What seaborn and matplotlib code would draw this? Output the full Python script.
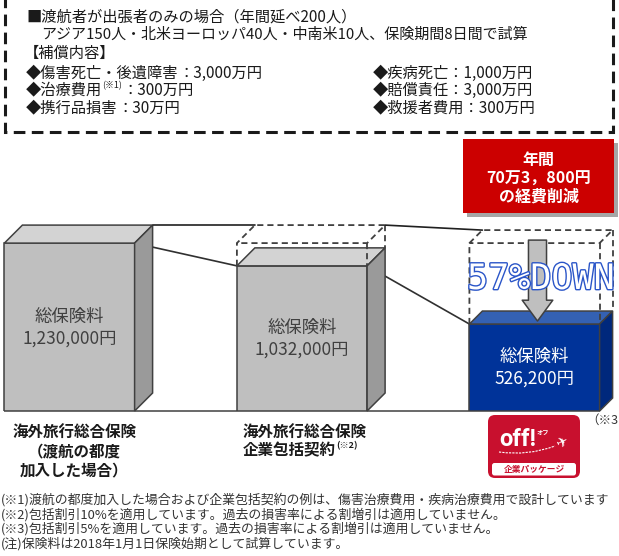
import matplotlib
matplotlib.use("Agg")
import numpy as np
import pandas as pd
import matplotlib.pyplot as plt
import seaborn as sns
from matplotlib.patches import Polygon, Rectangle, FancyBboxPatch, PathPatch
from matplotlib.path import Path
import matplotlib.patheffects as pe

# ------------------------------------------------------------------ data
plans = ["渡航の都度加入", "企業包括契約", "off!企業パッケージ"]
premiums = [1230000, 1032000, 526200]
premium_labels = ["1,230,000円", "1,032,000円", "526,200円"]
premium_title = "総保険料"
saving_lines = ["年間", "70万3，800円", "の経費削減"]
reduction_label = "57%DOWN"
category1_lines = ["海外旅行総合保険", "（渡航の都度", "加入した場合）"]
category2_lines = ["海外旅行総合保険", "企業包括契約"]
category2_note = "(※2)"
header_lines = ["■渡航者が出張者のみの場合（年間延べ200人）",
                "アジア150人・北米ヨーロッパ40人・中南米10人、保険期間8日間で試算",
                "【補償内容】"]
coverage_left = [["◆傷害死亡・後遺障害", "", "：3,000万円"],
                 ["◆治療費用", "(※1)", "：300万円"],
                 ["◆携行品損害", "", "：30万円"]]
coverage_right = ["◆疾病死亡：1,000万円", "◆賠償責任：3,000万円", "◆救援者費用：300万円"]
footnotes = ["(※1)渡航の都度加入した場合および企業包括契約の例は、傷害治療費用・疾病治療費用で設計しています",
             "(※2)包括割引10%を適用しています。過去の損害率による割増引は適用していません。",
             "(※3)包括割引5%を適用しています。過去の損害率による割増引は適用していません。",
             "(注)保険料は2018年1月1日保険始期として試算しています。"]
logo_main = "off!"
logo_kana = "オフ"
logo_sub = "企業パッケージ"
logo_note = "（※3"

# ------------------------------------------------------------------ style
sns.set_theme(style="white")
plt.rcParams["font.family"] = ["Noto Sans CJK JP", "DejaVu Sans"]

W, H = 619, 556
EDGE = "#404040"
front_colors = ["#BFBFBF", "#BFBFBF", "#003399"]
top_colors = ["#D3D3D3", "#D3D3D3", "#3461B3"]
side_colors = ["#9A9A9A", "#9A9A9A", "#00287C"]
label_colors = ["#404040", "#404040", "white"]
depth_px = [18, 18, 13]
BAR_W = 0.56
FLOOR_PX, TOP_PX = 411, 120          # pixel rows (from top) of bar floor / axes top
PX_PER_YEN = 115e-6                  # vertical scale
Y_FLOOR = -230000                    # truncated value axis floor
X_UNIT_PX = 232.5                    # pixels per category step
X0_PX = 69.5                         # pixel column of first category

fig = plt.figure(figsize=(W / 100, H / 100), dpi=100)
deco = fig.add_axes([0, 0, 1, 1])
deco.set_xlim(0, W)
deco.set_ylim(H, 0)
deco.set_axis_off()

ax = fig.add_axes([0, (H - FLOOR_PX) / H, 1, (FLOOR_PX - TOP_PX) / H])
df = pd.DataFrame({"plan": plans, "premium": premiums})
sns.barplot(data=df, x="plan", y="premium", hue="plan", palette=front_colors,
            saturation=1, width=BAR_W, edgecolor=EDGE, linewidth=1.1,
            legend=False, ax=ax)
ax.set_xlim(-X0_PX / X_UNIT_PX, (W - X0_PX) / X_UNIT_PX)
ax.set_ylim(Y_FLOOR, Y_FLOOR + (FLOOR_PX - TOP_PX) / PX_PER_YEN)
ax.set_axis_off()


def to_disp(x, y):
    return ax.transData.transform((x, y))


def to_data(X, Y):
    return ax.transData.inverted().transform((X, Y))


def back(x, y, d):
    X, Y = to_disp(x, y)
    return tuple(to_data(X + d, Y + d))


bars = sorted(ax.patches, key=lambda p: p.get_x())
geo = []
for i, p in enumerate(bars):
    x0 = p.get_x()
    x1 = x0 + p.get_width()
    top = p.get_height()
    p.set_y(Y_FLOOR)
    p.set_height(top - Y_FLOOR)
    p.set_zorder(2)
    d = depth_px[i]
    top_face = [(x0, top), back(x0, top, d), back(x1, top, d), (x1, top)]
    side_face = [(x1, Y_FLOOR), back(x1, Y_FLOOR, d), back(x1, top, d), (x1, top)]
    ax.add_patch(Polygon(top_face, closed=True, fc=top_colors[i], ec=EDGE, lw=1.1,
                         joinstyle="miter", zorder=2, clip_on=False))
    ax.add_patch(Polygon(side_face, closed=True, fc=side_colors[i], ec=EDGE, lw=1.1,
                         joinstyle="miter", zorder=2, clip_on=False))
    cx = (x0 + x1) / 2
    mid = (Y_FLOOR + top) / 2
    ax.annotate(premium_title, (cx, mid), xytext=(0, 7.6), textcoords="offset points",
                ha="center", va="center", fontsize=12.5, color=label_colors[i], zorder=6)
    ax.annotate(premium_labels[i], (cx, mid), xytext=(0, -8.2), textcoords="offset points",
                ha="center", va="center", fontsize=12.5, color=label_colors[i], zorder=6)
    geo.append((x0, x1, top, d))

# floor line
ax.plot([geo[0][0], geo[-1][1]], [Y_FLOOR, Y_FLOOR], color=EDGE, lw=1.1, zorder=1,
        clip_on=False, solid_capstyle="butt")

# ghost outlines of the first (largest) premium over the later bars
ref_top = geo[0][2]
dash = (0, (3.4, 2.2))
ghost_back = []
for i in range(1, len(geo)):
    x0, x1, top, d = geo[i]
    segs = [
        [(x0, top), (x0, ref_top), back(x0, ref_top, d), back(x1, ref_top, d), (x1, ref_top), (x0, ref_top)],
        [(x1, ref_top), (x1, top)],
        [back(x1, ref_top, d), back(x1, top, d)],
    ]
    for s in segs:
        xs, ys = zip(*s)
        ax.plot(xs, ys, color=EDGE, lw=1.3, ls=dash, zorder=3, clip_on=False)
    ghost_back.append((back(x0, ref_top, d), back(x1, ref_top, d)))

# connecting lines
x0, x1, top, d = geo[0]
prev_back_right = back(x1, top, d)
for gl, gr in ghost_back:
    ax.plot([prev_back_right[0], gl[0]], [prev_back_right[1], gl[1]], color="#202020",
            lw=1.2, zorder=3, clip_on=False)
    prev_back_right = gr
for i in range(len(geo) - 1):
    ax.plot([geo[i][1], geo[i + 1][0]], [geo[i][2], geo[i + 1][2]], color="#303030",
            lw=1.2, zorder=1, clip_on=False)

# down arrow from the reference level to the last bar
x0, x1, top, d = geo[-1]
cx = (x0 + x1) / 2
start = back(cx, ref_top, 3)
end = back(cx, top, 3)
ax.annotate("", xy=end, xytext=start,
            arrowprops=dict(arrowstyle="simple,head_length=1.5,head_width=2.2,tail_width=1.3",
                            mutation_scale=10, fc="#BFBFBF", ec=EDGE, lw=1.1,
                            shrinkA=0, shrinkB=0),
            zorder=4, annotation_clip=False)

# 57%DOWN hollow text (monospace, fit to reference width)
renderer = fig.canvas.get_renderer()
down = ax.text(541, 279, reduction_label, transform=deco.transData, ha="center", va="center",
               family=["DejaVu Sans Mono"], fontsize=24, color="white", zorder=7,
               path_effects=[pe.Stroke(linewidth=2.0, foreground="#2A55C8"), pe.Normal()])
wpx = down.get_window_extent(renderer).width
down.set_fontsize(24 * 148 / wpx)

# ------------------------------------------------------------------ decorations / text
# top dashed frame
deco.add_patch(Rectangle((5, -20), 608, 152, fill=False, ec="#1a1a1a", lw=2.2,
                         ls=(0, (3.8, 2.1)), zorder=1))
TXT = "#1a1a1a"
deco.text(26, 17, header_lines[0], fontsize=11, color=TXT, va="center")
deco.text(41, 35, header_lines[1], fontsize=10.8, color=TXT, va="center")
deco.text(24, 53, header_lines[2], fontsize=11, color=TXT, va="center")
rows_y = [73, 90, 108]


def right_edge(t):
    bb = t.get_window_extent(renderer)
    return deco.transData.inverted().transform((bb.x1, bb.y0))[0]


for (a, sup, b), yy in zip(coverage_left, rows_y):
    t = deco.text(26, yy, a, va="center", fontsize=11, color=TXT)
    xe = right_edge(t)
    if sup:
        t = deco.text(xe, yy - 4, sup, va="center", fontsize=6.5, color=TXT)
        xe = right_edge(t)
    deco.text(xe, yy, b, va="center", fontsize=11, color=TXT)
for s, yy in zip(coverage_right, rows_y):
    deco.text(373, yy, s, fontsize=11, color=TXT, va="center")

# red savings box with shadow
deco.add_patch(Rectangle((467, 143), 151, 74, fc="#A6A6A6", ec="none", zorder=1))
deco.add_patch(Rectangle((463, 139), 151, 74, fc="#CC0000", ec="none", zorder=2))
for s, yy in zip(saving_lines, [160, 179, 197]):
    deco.text(538.5, yy, s, ha="center", va="center", fontsize=11.5, fontweight="bold",
              color="white", zorder=3)

# category labels
for s, yy in zip(category1_lines, [432, 451.5, 470.5]):
    deco.text(74.5, yy, s, ha="center", va="center", fontsize=11.2, fontweight="bold", color=TXT)
deco.text(243, 432, category2_lines[0], ha="left", va="center", fontsize=11.2,
          fontweight="bold", color=TXT)
t = deco.text(243, 450.5, category2_lines[1], ha="left", va="center", fontsize=11.2,
              fontweight="bold", color=TXT)
deco.text(right_edge(t), 446, category2_note, ha="left", va="center", fontsize=6.5,
          fontweight="bold", color=TXT)

# logo
LOGO_RED = "#C8102E"
deco.add_patch(FancyBboxPatch((488, 415), 92, 63, boxstyle="round,pad=0,rounding_size=7",
                              fc=LOGO_RED, ec="none", zorder=2))
deco.add_patch(FancyBboxPatch((492, 463), 84, 12.5, boxstyle="round,pad=0,rounding_size=2.5",
                              fc="white", ec="none", zorder=3))
deco.text(518, 439, logo_main, ha="center", va="center", fontsize=17, fontweight="bold",
          family=["Roboto", "DejaVu Sans"], color="white", zorder=4)
deco.text(543, 432, logo_kana, ha="center", va="center", fontsize=4.5, fontweight="bold",
          color="white", zorder=4)
deco.text(562, 442, "✈", ha="center", va="center", fontsize=10, rotation=25,
          family=["DejaVu Sans"], color="white", zorder=4)
swoosh = Path([(499, 452), (528, 456), (555, 446)], [Path.MOVETO, Path.CURVE3, Path.CURVE3])
deco.add_patch(PathPatch(swoosh, fc="none", ec="white", lw=0.8, ls=(0, (2, 1)), zorder=4))
deco.text(534, 469.5, logo_sub, ha="center", va="center", fontsize=6.3, fontweight="bold",
          color=LOGO_RED, zorder=4)
deco.text(586, 420, logo_note, ha="left", va="center", fontsize=9, color="#333333")

# footnotes
for s, yy in zip(footnotes, [500, 514.5, 529, 543.5]):
    deco.text(1, yy, s, ha="left", va="center", fontsize=9.3, color="#333333")

fig.savefig("out.png", dpi=100, facecolor="white")
